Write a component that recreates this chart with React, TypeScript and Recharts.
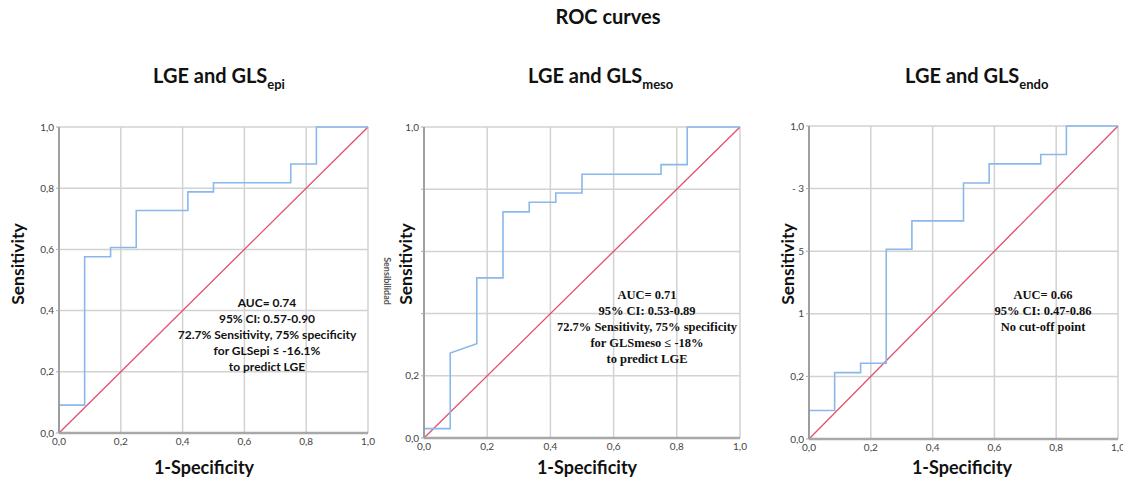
import { LineChart, Line, XAxis, YAxis, CartesianGrid } from 'recharts'

// ROC vertices (1-specificity, sensitivity)
const epiFpr = [0, 0, 0.083, 0.083, 0.167, 0.167, 0.25, 0.25, 0.417, 0.417, 0.5, 0.5, 0.75, 0.75, 0.833, 0.833, 1]
const epiTpr = [0, 0.091, 0.091, 0.576, 0.576, 0.606, 0.606, 0.727, 0.727, 0.788, 0.788, 0.818, 0.818, 0.879, 0.879, 1, 1]

const mesoFpr = [0, 0, 0.083, 0.083, 0.167, 0.167, 0.25, 0.25, 0.333, 0.333, 0.417, 0.417, 0.5, 0.5, 0.75, 0.75, 0.833, 0.833, 1]
const mesoTpr = [0, 0.03, 0.03, 0.273, 0.303, 0.515, 0.515, 0.727, 0.727, 0.758, 0.758, 0.788, 0.788, 0.848, 0.848, 0.879, 0.879, 1, 1]

const endoFpr = [0, 0, 0.083, 0.083, 0.167, 0.167, 0.25, 0.25, 0.333, 0.333, 0.5, 0.5, 0.583, 0.583, 0.75, 0.75, 0.833, 0.833, 1]
const endoTpr = [0, 0.091, 0.091, 0.212, 0.212, 0.242, 0.242, 0.606, 0.606, 0.697, 0.697, 0.818, 0.818, 0.879, 0.879, 0.909, 0.909, 1, 1]

const diagonal = [0, 1]

const gridTicks = [0, 0.2, 0.4, 0.6, 0.8, 1]
const xTickLabels = ['0,0', '0,2', '0,4', '0,6', '0,8', '1,0']
const epiYLabels = ['0,0', '0,2', '0,4', '0,6', '0,8', '1,0']
const mesoYLabels = ['0,0', '0,2', '', '', '', '1,0']
const endoYLabels = ['0,0', '0,2', '1', '5', '- 3', '1,0']

const epiNotes = ['AUC= 0.74', '95% CI: 0.57-0.90', '72.7% Sensitivity, 75% specificity', 'for GLSepi ≤ -16.1%', 'to predict LGE']
const mesoNotes = ['AUC= 0.71', '95% CI: 0.53-0.89', '72.7% Sensitivity, 75% specificity', 'for GLSmeso ≤ -18%', 'to predict LGE']
const endoNotes = ['AUC= 0.66', '95% CI: 0.47-0.86', 'No cut-off point']

const sans = 'Lato, "Open Sans", sans-serif'
const serif = '"Liberation Serif", "DejaVu Serif", serif'

type PanelProps = {
	left: number
	top: number
	width: number
	height: number
	fpr: number[]
	tpr: number[]
	yLabels: string[]
	clipRight: number
}

const Panel = ({ left, top, width, height, fpr, tpr, yLabels, clipRight }: PanelProps) => {
	const data = fpr.map((x, i) => ({ x, y: tpr[i] }))
	const ref = diagonal.map((v) => ({ x: v, y: v }))
	const yw = 40
	const xh = 24
	const mt = 6
	const mr = 14
	const chartW = yw + width + mr
	const chartH = mt + height + xh
	return (
		<div
			style={{
				position: 'absolute',
				left: left - yw,
				top: top - mt,
				width: Math.min(chartW, clipRight - (left - yw)),
				height: chartH,
				overflow: 'hidden',
			}}
		>
			<LineChart width={chartW} height={chartH} margin={{ top: mt, right: mr, left: 0, bottom: 0 }}>
				<CartesianGrid stroke='#d2d2d2' strokeWidth={1.5} />
				<XAxis
					type='number'
					dataKey='x'
					domain={[0, 1]}
					ticks={gridTicks}
					height={xh}
					tickLine={false}
					tickSize={3}
					axisLine={{ stroke: '#a8a8a8', strokeWidth: 2.5 }}
					tick={{ fontSize: 10, fill: '#444', fontFamily: sans }}
					tickFormatter={(v, i) => xTickLabels[i]}
				/>
				<YAxis
					type='number'
					dataKey='y'
					domain={[0, 1]}
					ticks={gridTicks}
					width={yw}
					tickSize={3}
					tickLine={{ stroke: '#aaa' }}
					axisLine={{ stroke: '#9a9a9a', strokeWidth: 1.8 }}
					tick={{ fontSize: 10, fill: '#444', fontFamily: sans }}
					tickFormatter={(v, i) => yLabels[i]}
				/>
				<Line
					data={ref}
					dataKey='y'
					type='linear'
					stroke='#e2506d'
					strokeWidth={1.3}
					dot={false}
					isAnimationActive={false}
				/>
				<Line
					data={data}
					dataKey='y'
					type='linear'
					stroke='#8ab8ea'
					strokeWidth={1.6}
					dot={false}
					isAnimationActive={false}
				/>
			</LineChart>
		</div>
	)
}

const Notes = ({ cx, top, lines, font, size }: { cx: number; top: number; lines: string[]; font: string; size: number }) => (
	<div
		style={{
			position: 'absolute',
			left: cx,
			top,
			transform: 'translateX(-50%)',
			textAlign: 'center',
			fontFamily: font,
			fontWeight: 700,
			fontSize: size,
			lineHeight: '16px',
			whiteSpace: 'nowrap',
			color: '#111',
		}}
	>
		{lines.map((l, i) => (
			<div key={i}>{l}</div>
		))}
	</div>
)

const Subtitle = ({ left, sub }: { left: number; sub: string }) => (
	<div
		style={{
			position: 'absolute',
			left,
			top: 63,
			fontFamily: sans,
			fontWeight: 700,
			fontSize: 20,
			whiteSpace: 'nowrap',
			color: '#111',
		}}
	>
		LGE and GLS<span style={{ fontSize: 13, position: 'relative', top: 6 }}>{sub}</span>
	</div>
)

const XTitle = ({ cx }: { cx: number }) => (
	<div
		style={{
			position: 'absolute',
			left: cx,
			top: 456,
			transform: 'translateX(-50%)',
			fontFamily: sans,
			fontWeight: 700,
			fontSize: 18,
			whiteSpace: 'nowrap',
			color: '#111',
		}}
	>
		1-Specificity
	</div>
)

const YTitle = ({ cx }: { cx: number }) => (
	<div
		style={{
			position: 'absolute',
			left: cx,
			top: 264,
			transform: 'translate(-50%, -50%) rotate(-90deg)',
			fontFamily: sans,
			fontWeight: 700,
			fontSize: 17.5,
			whiteSpace: 'nowrap',
			color: '#111',
		}}
	>
		Sensitivity
	</div>
)

export default function App() {
	return (
		<div
			style={{
				position: 'absolute',
				left: 0,
				top: 0,
				width: 1123,
				height: 483,
				background: '#fff',
				overflow: 'hidden',
			}}
		>
			<div
				style={{
					position: 'absolute',
					left: 608,
					top: 4,
					transform: 'translateX(-50%)',
					fontFamily: sans,
					fontWeight: 700,
					fontSize: 20,
					color: '#111',
				}}
			>
				ROC curves
			</div>

			<Subtitle left={153} sub='epi' />
			<Subtitle left={528} sub='meso' />
			<Subtitle left={905} sub='endo' />

			<Panel left={59} top={127} width={309} height={306} fpr={epiFpr} tpr={epiTpr} yLabels={epiYLabels} clipRight={380} />
			<Panel left={424} top={127} width={316} height={311} fpr={mesoFpr} tpr={mesoTpr} yLabels={mesoYLabels} clipRight={760} />
			<Panel left={809} top={126} width={309} height={313} fpr={endoFpr} tpr={endoTpr} yLabels={endoYLabels} clipRight={1123} />

			<Notes cx={267} top={295} lines={epiNotes} font={sans} size={12} />
			<Notes cx={647} top={287} lines={mesoNotes} font={serif} size={12.5} />
			<Notes cx={1043} top={287} lines={endoNotes} font={serif} size={12.5} />

			<YTitle cx={17} />
			<YTitle cx={405} />
			<YTitle cx={787} />

			<div
				style={{
					position: 'absolute',
					left: 387,
					top: 281,
					transform: 'translate(-50%, -50%) rotate(90deg)',
					fontFamily: sans,
					fontWeight: 700,
					fontSize: 9,
					color: '#555',
					whiteSpace: 'nowrap',
				}}
			>
				Sensibilidad
			</div>

			<XTitle cx={204} />
			<XTitle cx={587} />
			<XTitle cx={962} />
		</div>
	)
}
